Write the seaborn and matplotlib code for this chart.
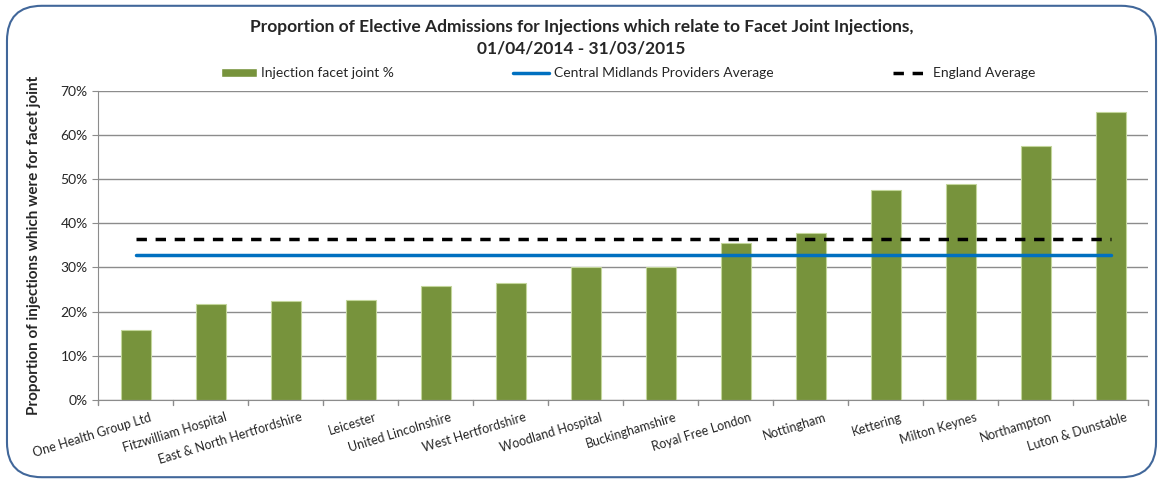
import numpy as np
import pandas as pd
import matplotlib
matplotlib.use('Agg')
import matplotlib.pyplot as plt
import seaborn as sns
import matplotlib.transforms as mtransforms
from matplotlib.patches import FancyBboxPatch, Patch
from matplotlib.lines import Line2D

# Du lieu
providers = ['One Health Group Ltd', 'Fitzwilliam Hospital', 'East & North Hertfordshire',
             'Leicester', 'United Lincolnshire', 'West Hertfordshire', 'Woodland Hospital',
             'Buckinghamshire', 'Royal Free London', 'Nottingham', 'Kettering',
             'Milton Keynes', 'Northampton', 'Luton & Dunstable']
facet_pct = [15.9, 21.8, 22.4, 22.7, 25.9, 26.5, 30.2, 30.2, 35.6, 37.9, 47.6, 49.0, 57.4, 65.1]
midlands_avg = 32.9
england_avg = 36.5

df = pd.DataFrame({'provider': providers, 'pct': facet_pct})

sns.set_style('white')
plt.rcParams['font.family'] = ['Lato', 'DejaVu Sans']

fig = plt.figure(figsize=(11.63, 4.83), dpi=100)
ax = fig.add_axes([0.0843, 0.172, 0.903, 0.640])

sns.barplot(data=df, x='provider', y='pct', color='#77933C', width=0.4,
            edgecolor='#C3D69B', linewidth=0.8, saturation=1, ax=ax, zorder=2)

x_line = [0, len(providers) - 1]
ax.plot(x_line, [midlands_avg] * 2, color='#0070C0', lw=2.5, zorder=3)
ax.plot(x_line, [england_avg] * 2, color='black', lw=2.5, ls=(0, (3, 2.5)), zorder=3)

ax.set_xlim(-0.5, len(providers) - 0.5)
ax.set_ylim(0, 70)
ax.set_yticks(np.arange(0, 71, 10))
ax.set_yticklabels([f'{v}%' for v in range(0, 71, 10)], fontsize=10)
ax.yaxis.grid(True, color='#8C8C8C', lw=1)
ax.set_axisbelow(True)

ax.set_xticks(np.arange(len(providers)))
ax.set_xticklabels(providers, rotation=17, ha='right', rotation_mode='anchor', fontsize=9)
ax.tick_params(axis='x', length=0, pad=8)
# dich nhan sang phai mot chut
offset = mtransforms.ScaledTranslation(14 / 100, 0, fig.dpi_scale_trans)
for lbl in ax.get_xticklabels():
    lbl.set_transform(lbl.get_transform() + offset)
# vach chia giua cac nhom
for b in np.arange(-0.5, len(providers), 1):
    ax.plot([b, b], [0, -1.2], color='#8C8C8C', lw=1, clip_on=False)
ax.tick_params(axis='y', length=4, color='#8C8C8C', left=True)

for s in ['top', 'right']:
    ax.spines[s].set_visible(False)
for s in ['left', 'bottom']:
    ax.spines[s].set_color('#8C8C8C')

ax.set_xlabel('')
ax.set_ylabel('Proportion of injections which were for facet joint', fontsize=11,
              fontweight='bold', labelpad=14)

fig.text(0.5, 0.945, 'Proportion of Elective Admissions for Injections which relate to Facet Joint Injections,',
         ha='center', va='center', fontsize=12.5, fontweight='bold')
fig.text(0.5, 0.900, '01/04/2014 - 31/03/2015', ha='center', va='center', fontsize=12.5, fontweight='bold')

handles = [Patch(facecolor='#77933C'),
           Line2D([], [], color='#0070C0', lw=2.5),
           Line2D([], [], color='black', lw=2.5, ls=(0, (3, 2.5)))]
labels = ['Injection facet joint %', 'Central Midlands Providers Average', 'England Average']
fig.legend(handles, labels, loc='center', bbox_to_anchor=(0.540, 0.848), ncol=3, frameon=False,
           fontsize=10, columnspacing=8.6, handlelength=2.6, handletextpad=0.3)

border = FancyBboxPatch((0.006, 0.012), 0.988, 0.976, boxstyle='round,pad=0,rounding_size=0.03',
                        transform=fig.transFigure, fill=False, edgecolor='#41679A', lw=1.5,
                        mutation_aspect=1163 / 483)
fig.patches.append(border)

plt.savefig('out.png', dpi=100)
